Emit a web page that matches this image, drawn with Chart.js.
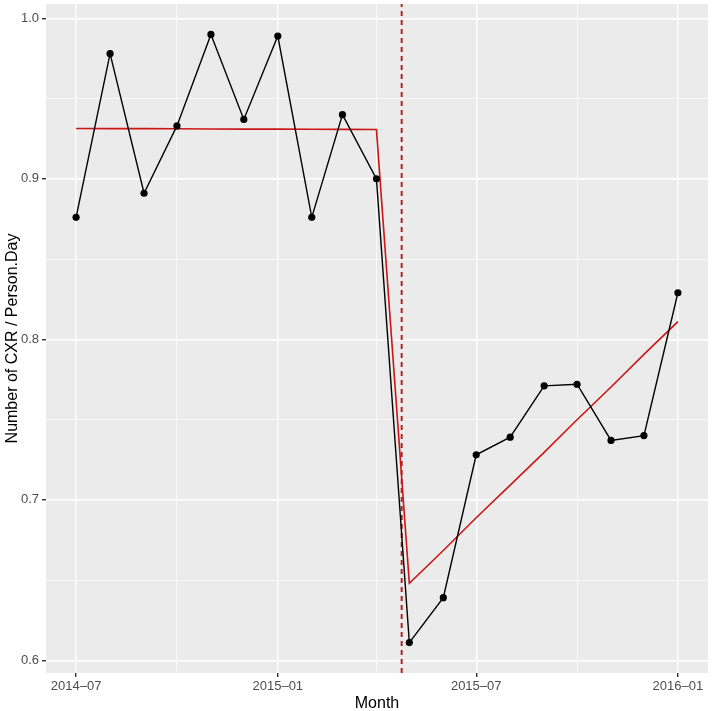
<!DOCTYPE html>
<html>
<head>
<meta charset="utf-8">
<script src="https://cdn.jsdelivr.net/npm/chart.js@4.4.1/dist/chart.umd.min.js"></script>
<style>
  body { margin: 0; background: #ffffff; }
  #wrap { width: 712px; height: 711px; }
</style>
</head>
<body>
<div id="wrap"><canvas id="myChart"></canvas></div>
<script>
// Bulan (awal bulan) dan nilai observasi
const months = ['2014-07', '2014-08', '2014-09', '2014-10', '2014-11', '2014-12',
  '2015-01', '2015-02', '2015-03', '2015-04', '2015-05', '2015-06',
  '2015-07', '2015-08', '2015-09', '2015-10', '2015-11', '2015-12', '2016-01'];
const observed = [0.876, 0.978, 0.891, 0.933, 0.990, 0.937,
  0.989, 0.876, 0.940, 0.900, 0.611, 0.639,
  0.728, 0.739, 0.771, 0.772, 0.737, 0.740, 0.829];
// Garis fit (segmented regression)
const fitted = [0.9314, 0.9313, 0.9313, 0.9312, 0.9311, 0.9310,
  0.9310, 0.9309, 0.9308, 0.9307, 0.6480, 0.6684,
  0.6888, 0.7091, 0.7295, 0.7499, 0.7703, 0.7906, 0.8110];
// Tanggal intervensi (garis putus-putus)
const interventionDate = '2015-04-24';

// Tick sumbu
const xMajorTicks = ['2014-07', '2015-01', '2015-07', '2016-01'];
const xTickLabels = ['2014–07', '2015–01', '2015–07', '2016–01'];
const xMinorTicks = ['2014-10', '2015-04', '2015-10'];
const yMajorTicks = [0.6, 0.7, 0.8, 0.9, 1.0];
const yTickLabels = ['0.6', '0.7', '0.8', '0.9', '1.0'];
const yMinorTicks = [0.65, 0.75, 0.85, 0.95];

// Hari sejak epoch (UTC)
function toDay(str) {
  const p = str.split('-').map(Number);
  return Date.UTC(p[0], p[1] - 1, p[2] || 1) / 86400000;
}

const xMajorDays = xMajorTicks.map(toDay);
const xMinorDays = xMinorTicks.map(toDay);
const dayMin = toDay(months[0]);
const dayMax = toDay(months[months.length - 1]);
const xPad = (dayMax - dayMin) * 0.05;
const yMinData = Math.min(...observed);
const yMaxData = Math.max(...observed);
const yPad = (yMaxData - yMinData) * 0.05;
const yMin = yMinData - yPad;
const yMax = yMaxData + yPad;

function near(a, b) { return Math.abs(a - b) < 1e-6; }
function isXMajor(v) { return xMajorDays.some(d => near(d, v)); }
function isYMajor(v) { return yMajorTicks.some(d => near(d, v)); }

const FONT = "'Liberation Sans', Arial, Helvetica, sans-serif";

// Latar panel abu-abu ala ggplot
const panelBg = {
  id: 'panelBg',
  beforeDraw(chart) {
    const { ctx, chartArea: a } = chart;
    ctx.save();
    ctx.fillStyle = '#ffffff';
    ctx.fillRect(0, 0, chart.width, chart.height);
    ctx.fillStyle = '#ebebeb';
    ctx.fillRect(a.left, a.top, a.right - a.left, a.bottom - a.top);
    ctx.restore();
  }
};

const data = {
  datasets: [
    {
      label: 'Observed',
      data: months.map((m, i) => ({ x: toDay(m), y: observed[i] })),
      borderColor: '#000000',
      backgroundColor: '#000000',
      borderWidth: 1.4,
      pointRadius: 3.6,
      pointBorderWidth: 0,
      pointBackgroundColor: '#000000',
      order: 0
    },
    {
      label: 'Fitted',
      data: months.map((m, i) => ({ x: toDay(m), y: fitted[i] })),
      borderColor: '#cc1616',
      borderWidth: 1.6,
      pointRadius: 0,
      order: 1
    },
    {
      label: 'Intervention',
      data: [{ x: toDay(interventionDate), y: yMin }, { x: toDay(interventionDate), y: yMax }],
      borderColor: '#b22424',
      borderWidth: 2,
      borderDash: [5, 4],
      pointRadius: 0,
      order: 2
    }
  ]
};

const config = {
  type: 'line',
  data: data,
  options: {
    responsive: true,
    maintainAspectRatio: false,
    animation: false,
    layout: { padding: { top: 2, right: 2, left: 0, bottom: 0 } },
    plugins: {
      legend: { display: false },
      tooltip: { enabled: false }
    },
    scales: {
      x: {
        type: 'linear',
        min: dayMin - xPad,
        max: dayMax + xPad,
        afterBuildTicks(scale) {
          scale.ticks = xMajorDays.concat(xMinorDays).map(v => ({ value: v }));
        },
        afterFit(scale) { scale.height = 38; },
        border: { display: false },
        grid: {
          color: '#ffffff',
          lineWidth: ctx => (ctx.tick && isXMajor(ctx.tick.value)) ? 1.4 : 0.7,
          tickColor: ctx => (ctx.tick && isXMajor(ctx.tick.value)) ? '#333333' : 'rgba(0,0,0,0)',
          tickLength: 4,
          drawTicks: true
        },
        ticks: {
          autoSkip: false,
          maxRotation: 0,
          padding: 2,
          color: '#4d4d4d',
          font: { family: FONT, size: 13 },
          callback: function (value) {
            const i = xMajorDays.findIndex(d => near(d, value));
            return i >= 0 ? xTickLabels[i] : '';
          }
        },
        title: {
          display: true,
          text: 'Month',
          color: '#000000',
          font: { family: FONT, size: 16 },
          padding: { top: 0, bottom: -2 }
        }
      },
      y: {
        type: 'linear',
        min: yMin,
        max: yMax,
        afterBuildTicks(scale) {
          scale.ticks = yMajorTicks.concat(yMinorTicks).map(v => ({ value: v }));
        },
        afterFit(scale) {
          scale.width = 46;
          // tanpa padding label di atas/bawah supaya panel mulai dari atas
          scale.paddingTop = 0;
          scale.paddingBottom = 0;
        },
        border: { display: false },
        grid: {
          color: '#ffffff',
          lineWidth: ctx => (ctx.tick && isYMajor(ctx.tick.value)) ? 1.4 : 0.7,
          tickColor: ctx => (ctx.tick && isYMajor(ctx.tick.value)) ? '#333333' : 'rgba(0,0,0,0)',
          tickLength: 4,
          drawTicks: true
        },
        ticks: {
          autoSkip: false,
          padding: 3,
          color: '#4d4d4d',
          font: { family: FONT, size: 13 },
          callback: function (value) {
            const i = yMajorTicks.findIndex(d => near(d, value));
            return i >= 0 ? yTickLabels[i] : '';
          }
        },
        title: {
          display: true,
          text: 'Number of CXR / Person.Day',
          color: '#000000',
          font: { family: FONT, size: 16 },
          padding: { top: 3, bottom: 0 }
        }
      }
    }
  },
  plugins: [panelBg]
};

const ctx = document.getElementById('myChart').getContext('2d');
const myChart = new Chart(ctx, config);
</script>
</body>
</html>
